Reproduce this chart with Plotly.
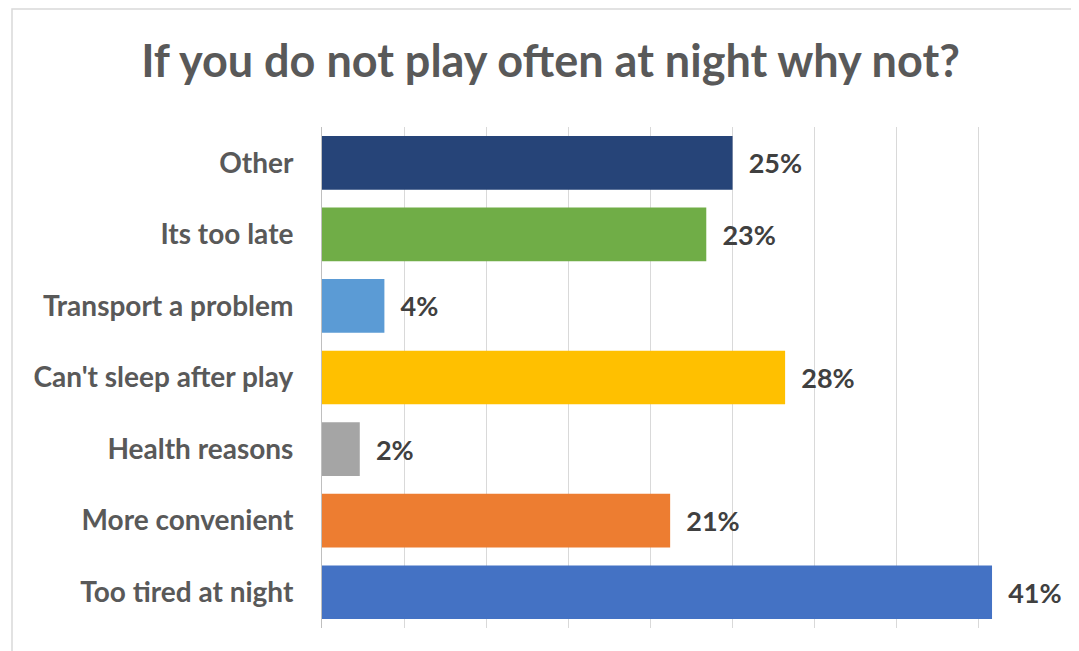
import plotly.graph_objects as go

categories = ["Other", "Its too late", "Transport a problem", "Can't sleep after play",
              "Health reasons", "More convenient", "Too tired at night"]
values = [0.250, 0.234, 0.038, 0.282, 0.023, 0.212, 0.408]
colors = ["#264478", "#70AD47", "#5B9BD5", "#FFC000", "#A5A5A5", "#ED7D31", "#4472C4"]
title_text = "If you do not play often at night why not?"

FONT = "Lato"

fig = go.Figure(go.Bar(
    x=values, y=categories, orientation="h",
    marker=dict(color=colors, line=dict(width=0)),
    width=0.75,
    texttemplate="  %{x:.0%}", textposition="outside", cliponaxis=False,
    textfont=dict(family=FONT, size=27, color="#404040", weight="bold"),
    hoverinfo="skip",
))

# page body has an 8px margin, so figure coords = screen coords - 8
L, R, T, B = 314, 1053, 119, 620
W, H = 1079, 651

fig.update_layout(
    width=W, height=H,
    margin=dict(l=L, r=W - R, t=T, b=H - B, autoexpand=False),
    paper_bgcolor="white", plot_bgcolor="white",
    showlegend=False,
    title=dict(text=title_text, x=542.5 / W, xanchor="center", y=1 - 53 / H, yanchor="middle",
               font=dict(family=FONT, size=45, color="#595959", weight="bold")),
    xaxis=dict(range=[0, 0.45], dtick=0.05, showticklabels=False, showgrid=True,
               gridcolor="#D9D9D9", gridwidth=1.3, zeroline=False, showline=False,
               fixedrange=True),
    yaxis=dict(autorange="reversed", showgrid=False, showline=True, linecolor="#BFBFBF",
               linewidth=1, ticks="", ticklabelstandoff=22,
               tickfont=dict(family=FONT, size=28, color="#595959", weight="bold")),
    shapes=[dict(type="rect", xref="paper", yref="paper",
                 x0=(4 - L) / (R - L), x1=(1090 - L) / (R - L),
                 y0=(B - 660) / (B - T), y1=(B - 1) / (B - T),
                 line=dict(color="#D9D9D9", width=1.5), fillcolor="rgba(0,0,0,0)", layer="below")],
)

fig.write_html("out.html")
